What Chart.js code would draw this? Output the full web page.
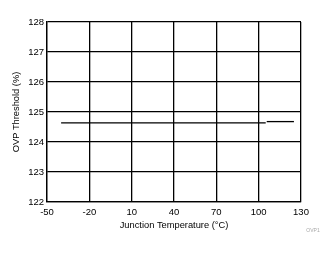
<!DOCTYPE html>
<html>
<head>
<meta charset="utf-8">
<script src="https://cdn.jsdelivr.net/npm/chart.js@4"></script>
<style>
  html, body { margin: 0; padding: 0; background: #fff; }
  #wrap { width: 334px; height: 254px; }
</style>
</head>
<body>
<div id="wrap"><canvas id="chartOvp"></canvas></div>
<script>
// data
const tempLow = [-40, 105];
const ovpLow = [124.64, 124.64];
const tempHigh = [105.7, 125];
const ovpHigh = [124.68, 124.68];
const xTicks = [-50, -20, 10, 40, 70, 100, 130];
const yTicks = [122, 123, 124, 125, 126, 127, 128];

Chart.defaults.font.family = "'Liberation Sans', Arial, sans-serif";
Chart.defaults.font.size = 9.5;
Chart.defaults.color = "#000";

// little grey tag in the bottom right corner
const tagPlugin = {
    id: "tag",
    afterDraw(chart) {
        const ctx = chart.ctx;
        ctx.save();
        ctx.font = "5px 'Liberation Sans', Arial, sans-serif";
        ctx.fillStyle = "#a8a8a8";
        ctx.textAlign = "center";
        ctx.textBaseline = "middle";
        ctx.fillText("OVP1", 313, 231);
        ctx.restore();
    }
};

const pts = (xs, ys) => xs.map((x, i) => ({ x: x, y: ys[i] }));

new Chart(document.getElementById("chartOvp"), {
    type: "line",
    data: {
        datasets: [
            {
                data: pts(tempLow, ovpLow),
                borderColor: "#000",
                borderWidth: 1.3,
                pointRadius: 0,
                fill: false
            },
            {
                data: pts(tempHigh, ovpHigh),
                borderColor: "#000",
                borderWidth: 1.3,
                pointRadius: 0,
                fill: false
            }
        ]
    },
    plugins: [tagPlugin],
    options: {
        responsive: true,
        maintainAspectRatio: false,
        animation: false,
        events: [],
        layout: { padding: { left: 0, top: 22, right: 33, bottom: 0 } },
        plugins: {
            legend: { display: false },
            tooltip: { enabled: false }
        },
        scales: {
            x: {
                type: "linear",
                min: -50,
                max: 130,
                afterBuildTicks: (s) => { s.ticks = xTicks.map(v => ({ value: v })); },
                afterFit: (s) => { s.height = 52; },
                grid: { color: "#000", lineWidth: 1.3, drawTicks: false },
                border: { color: "#000", width: 1.3 },
                ticks: { padding: 5, maxRotation: 0, autoSkip: false },
                title: {
                    display: true,
                    text: "Junction Temperature (°C)",
                    font: { size: 9.3 },
                    padding: { top: 0, bottom: 22.7 }
                }
            },
            y: {
                type: "linear",
                min: 122,
                max: 128,
                afterBuildTicks: (s) => { s.ticks = yTicks.map(v => ({ value: v })); },
                afterFit: (s) => { s.width = 47; },
                grid: { color: "#000", lineWidth: 1.3, drawTicks: false },
                border: { color: "#000", width: 1.3 },
                ticks: { padding: 3, autoSkip: false },
                title: {
                    display: true,
                    text: "OVP Threshold (%)",
                    font: { size: 9.3 },
                    padding: { top: 10.9, bottom: 0 }
                }
            }
        }
    }
});
</script>
</body>
</html>
